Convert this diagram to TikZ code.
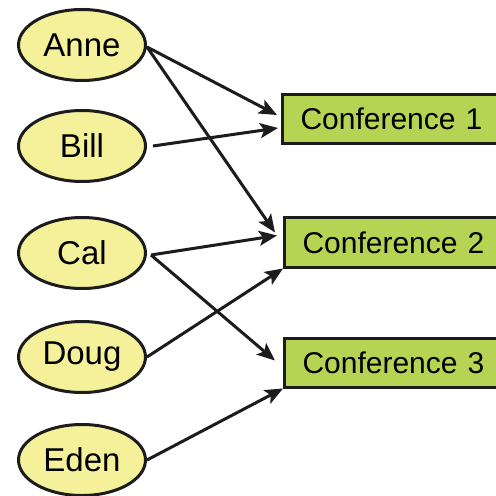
\documentclass[tikz,border=0pt]{standalone}
\usepackage{fontspec}
\setmainfont{Liberation Sans}
\usetikzlibrary{arrows.meta,shapes.geometric}
\definecolor{personfill}{RGB}{245,241,154}
\definecolor{conffill}{RGB}{181,212,84}
\definecolor{ink}{RGB}{28,28,28}
\begin{document}
\begin{tikzpicture}[x=0.5pt,y=-0.5pt,
  person/.style={ellipse,draw=ink,fill=personfill,line width=1.5pt,
    minimum width=63.5pt,minimum height=35.5pt,inner sep=0pt,
    font=\fontsize{16.5}{18}\selectfont},
  conf/.style={rectangle,draw=ink,fill=conffill,line width=1.5pt,
    minimum height=24.5pt,inner ysep=0pt,inner xsep=9pt,
    anchor=west,align=left,text width=160pt,
    font=\fontsize{15}{17}\selectfont},
  link/.style={draw=ink,line width=1.5pt,
    -{Stealth[length=9pt,width=7.5pt,inset=2pt]}}]
  \useasboundingbox (0,0) rectangle (495,496);
  \fill[white] (0,0) rectangle (495,496);

  % people
  \node[person] (anne) at (82,45)  {Anne};
  \node[person] (bill) at (82,146) {Bill};
  \node[person] (cal)  at (82,253) {Cal};
  \node[person] (doug) at (82,357) {Doug};
  \node[person] (eden) at (82,460) {Eden};

  % conferences (the boxes run on past the right edge of the page)
  \node[conf] (c1) at (281,119)   {Conference 1};
  \node[conf] (c2) at (283,242.5) {Conference 2};
  \node[conf] (c3) at (283,362.5) {Conference 3};

  % attendance
  \draw[link] ([yshift=-1pt]anne.east) -- ([xshift=-2pt,yshift=2pt]c1.west);
  \draw[link] ([xshift=3pt]bill.east)  -- ([xshift=-1.5pt,yshift=-4.5pt]c1.west);
  \draw[link] ([yshift=-1pt]anne.east) -- ([xshift=-4pt,yshift=5pt]c2.west);
  \draw[link] ([xshift=2pt,yshift=-1pt]cal.east) -- ([xshift=-3pt,yshift=3.5pt]c2.west);
  \draw[link] (doug.east) -- (c2.south west);
  \draw[link] ([xshift=2pt,yshift=-1pt]cal.east) -- ([xshift=-4pt,yshift=1pt]c3.west);
  \draw[link] (eden.east) -- (c3.south west);
\end{tikzpicture}
\end{document}
